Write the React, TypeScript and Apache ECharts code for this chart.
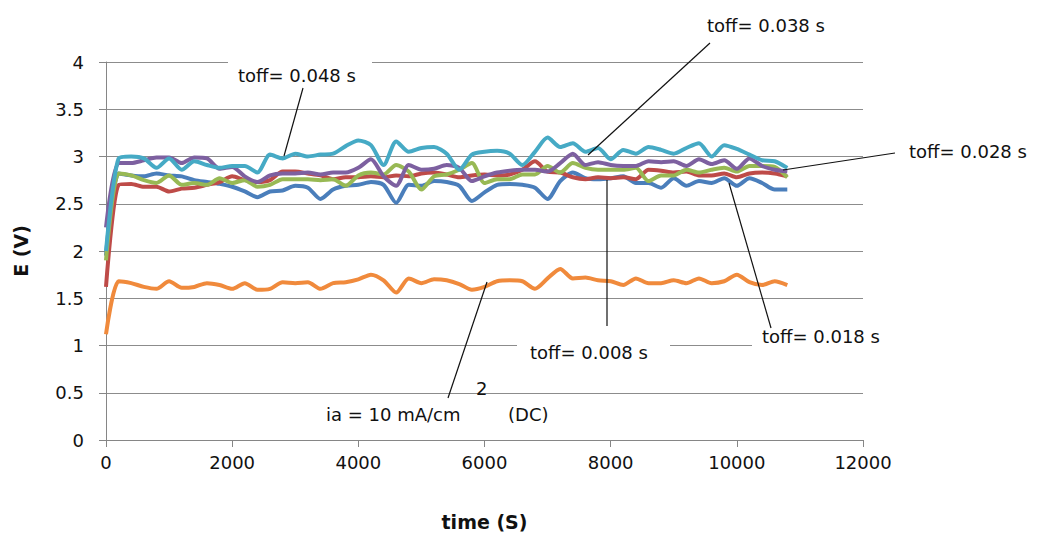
import React, { useEffect, useRef } from 'react';
import * as echarts from 'echarts';

const times = [0, 200, 400, 600, 800, 1000, 1200, 1400, 1600, 1800, 2000, 2200, 2400, 2600, 2800, 3000, 3200, 3400, 3600, 3800, 4000, 4200, 4400, 4600, 4800, 5000, 5200, 5400, 5600, 5800, 6000, 6200, 6400, 6600, 6800, 7000, 7200, 7400, 7600, 7800, 8000, 8200, 8400, 8600, 8800, 9000, 9200, 9400, 9600, 9800, 10000, 10200, 10400, 10600, 10800];

const xTicks = [0, 2000, 4000, 6000, 8000, 10000, 12000];
const yTicks = [0, 0.5, 1, 1.5, 2, 2.5, 3, 3.5, 4];

const blueVals = [1.95, 2.82, 2.80, 2.79, 2.82, 2.80, 2.79, 2.75, 2.73, 2.71, 2.68, 2.63, 2.57, 2.63, 2.64, 2.69, 2.67, 2.55, 2.65, 2.69, 2.70, 2.73, 2.70, 2.51, 2.70, 2.69, 2.74, 2.73, 2.69, 2.53, 2.62, 2.70, 2.71, 2.70, 2.67, 2.55, 2.74, 2.83, 2.77, 2.76, 2.77, 2.79, 2.72, 2.72, 2.67, 2.77, 2.69, 2.74, 2.72, 2.77, 2.69, 2.77, 2.72, 2.65, 2.65];
const redVals = [1.62, 2.70, 2.71, 2.68, 2.68, 2.63, 2.66, 2.67, 2.70, 2.73, 2.79, 2.75, 2.73, 2.75, 2.84, 2.84, 2.82, 2.80, 2.76, 2.78, 2.78, 2.79, 2.78, 2.80, 2.79, 2.82, 2.83, 2.81, 2.78, 2.80, 2.81, 2.80, 2.81, 2.86, 2.95, 2.84, 2.83, 2.78, 2.76, 2.78, 2.77, 2.78, 2.76, 2.86, 2.85, 2.83, 2.84, 2.80, 2.80, 2.82, 2.78, 2.82, 2.83, 2.82, 2.79];
const greenVals = [1.90, 2.82, 2.80, 2.75, 2.72, 2.80, 2.70, 2.72, 2.70, 2.77, 2.72, 2.75, 2.68, 2.70, 2.76, 2.76, 2.76, 2.75, 2.76, 2.69, 2.80, 2.83, 2.81, 2.91, 2.84, 2.65, 2.79, 2.81, 2.86, 2.93, 2.72, 2.76, 2.76, 2.81, 2.81, 2.90, 2.83, 2.93, 2.88, 2.86, 2.86, 2.86, 2.88, 2.74, 2.80, 2.80, 2.86, 2.83, 2.86, 2.88, 2.84, 2.90, 2.90, 2.89, 2.78];
const purpleVals = [2.25, 2.93, 2.93, 2.96, 2.99, 2.99, 2.93, 2.99, 2.98, 2.87, 2.89, 2.79, 2.73, 2.80, 2.82, 2.82, 2.83, 2.81, 2.83, 2.83, 2.88, 2.97, 2.79, 2.69, 2.91, 2.86, 2.87, 2.91, 2.88, 2.74, 2.79, 2.83, 2.85, 2.86, 2.86, 2.84, 2.93, 3.03, 2.91, 2.94, 2.91, 2.90, 2.90, 2.95, 2.94, 2.95, 2.90, 2.97, 2.92, 2.96, 2.87, 2.98, 2.90, 2.86, 2.84];
const cyanVals = [2.00, 2.98, 3.00, 2.98, 2.88, 2.98, 2.86, 2.95, 2.91, 2.88, 2.90, 2.90, 2.83, 3.02, 2.98, 3.03, 3.00, 3.02, 3.03, 3.11, 3.17, 3.12, 2.91, 3.16, 3.05, 3.09, 3.10, 3.03, 2.86, 3.02, 3.05, 3.06, 3.03, 2.91, 3.05, 3.20, 3.10, 3.14, 3.05, 3.09, 2.97, 3.07, 3.03, 3.10, 3.07, 3.03, 3.09, 3.14, 3.00, 3.12, 3.08, 3.02, 2.96, 2.95, 2.88];
const orangeVals = [1.12, 1.68, 1.66, 1.62, 1.60, 1.68, 1.61, 1.62, 1.66, 1.64, 1.60, 1.66, 1.59, 1.60, 1.67, 1.66, 1.67, 1.60, 1.66, 1.67, 1.70, 1.75, 1.69, 1.56, 1.71, 1.66, 1.70, 1.69, 1.65, 1.59, 1.62, 1.68, 1.69, 1.68, 1.60, 1.71, 1.81, 1.71, 1.72, 1.69, 1.68, 1.64, 1.71, 1.66, 1.66, 1.69, 1.66, 1.71, 1.66, 1.68, 1.75, 1.67, 1.64, 1.68, 1.64];

const seriesNames = ['toff= 0.018 s', 'toff= 0.008 s', 'toff= 0.028 s', 'toff= 0.038 s', 'toff= 0.048 s', 'DC'];
const seriesVals = [blueVals, redVals, greenVals, purpleVals, cyanVals, orangeVals];
const seriesColors = ['#4a7ebb', '#be4b48', '#98b954', '#7d60a0', '#46aac5', '#f08a3c'];

const FONT = '"DejaVu Sans", Verdana, sans-serif';

function txt(text: string, x: number, y: number, size = 18) {
  return {
    type: 'text',
    x,
    y,
    z: 100,
    style: {
      text,
      font: `${size}px ${FONT}`,
      fill: '#111',
      textAlign: 'left',
      textVerticalAlign: 'middle',
      verticalAlign: 'middle',
    },
  };
}
function whiteRect(x: number, y: number, w: number, h: number) {
  return { type: 'rect', z: 90, shape: { x, y, width: w, height: h }, style: { fill: '#fff' } };
}
function leader(x1: number, y1: number, x2: number, y2: number) {
  return { type: 'line', z: 110, shape: { x1, y1, x2, y2 }, style: { stroke: '#111', lineWidth: 1.2 } };
}

export default function App() {
  const ref = useRef<HTMLDivElement>(null);
  useEffect(() => {
    const chart = echarts.init(ref.current!, null, { renderer: 'svg' });
    const option: any = {
      animation: false,
      backgroundColor: '#fff',
      grid: { left: 106, top: 62, width: 757, height: 378, containLabel: false },
      xAxis: {
        type: 'value',
        min: xTicks[0],
        max: xTicks[xTicks.length - 1],
        interval: 2000,
        name: 'time (S)',
        nameLocation: 'middle',
        nameGap: 72,
        nameTextStyle: { fontFamily: FONT, fontSize: 19, fontWeight: 'bold', color: '#111' },
        axisLine: { show: true, lineStyle: { color: '#868686', width: 1 } },
        axisTick: { show: true, length: 7, lineStyle: { color: '#868686' } },
        axisLabel: {
          fontFamily: FONT,
          fontSize: 18,
          color: '#111',
          margin: 13,
          formatter: (v: number) => String(v),
        },
        splitLine: { show: false },
      },
      yAxis: {
        type: 'value',
        min: yTicks[0],
        max: yTicks[yTicks.length - 1],
        interval: 0.5,
        name: 'E (V)',
        nameLocation: 'middle',
        nameGap: 76,
        nameRotate: 90,
        nameTextStyle: { fontFamily: FONT, fontSize: 19, fontWeight: 'bold', color: '#111' },
        axisLine: { show: true, lineStyle: { color: '#868686', width: 1 } },
        axisTick: { show: true, length: 7, lineStyle: { color: '#868686' } },
        axisLabel: {
          fontFamily: FONT,
          fontSize: 18,
          color: '#111',
          margin: 22,
          formatter: (v: number) => String(v),
        },
        splitLine: { show: true, lineStyle: { color: '#8c8c8c', width: 1 } },
      },
      series: seriesVals.map((vals, i) => ({
        name: seriesNames[i],
        type: 'line',
        data: times.map((t, k) => [t, vals[k]]),
        showSymbol: false,
        symbol: 'none',
        smooth: 0.25,
        lineStyle: { color: seriesColors[i], width: 4 },
        itemStyle: { color: seriesColors[i] },
      })),
      graphic: [
        whiteRect(228, 56, 144, 36),
        whiteRect(517, 336, 153, 30),
        whiteRect(752, 329, 118, 28),
        txt('toff= 0.048 s', 238, 75),
        txt('toff= 0.038 s', 707, 25),
        txt('toff= 0.028 s', 909, 151),
        txt('toff= 0.018 s', 762, 336),
        txt('toff= 0.008 s', 530, 352),
        txt('ia = 10 mA/cm', 326, 414),
        txt('2', 476, 388),
        txt('(DC)', 508, 414),
        leader(303, 88, 284, 156),
        leader(710, 43, 588, 155),
        leader(895, 153, 783, 170),
        leader(729, 183, 771, 328),
        leader(607, 180, 607, 326),
        leader(448, 398, 487, 282),
      ],
    };
    chart.setOption(option);
    return () => chart.dispose();
  }, []);
  return (
    <div
      ref={ref}
      style={{ position: 'fixed', left: 0, top: 0, width: 1038, height: 538, background: '#fff' }}
    />
  );
}
